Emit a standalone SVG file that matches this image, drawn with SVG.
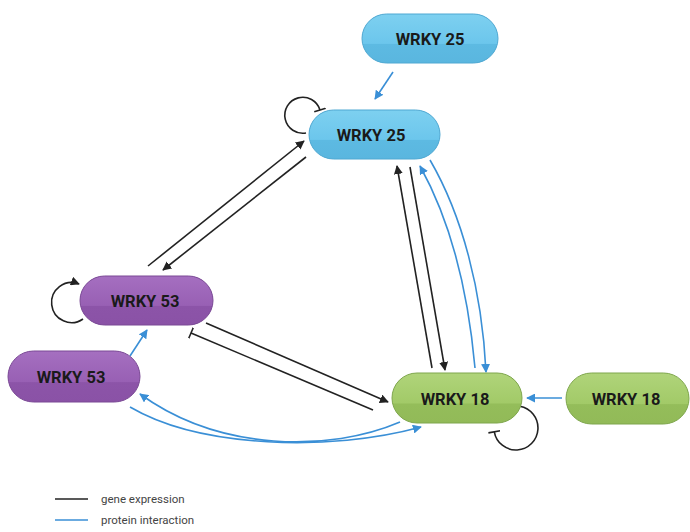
<svg xmlns="http://www.w3.org/2000/svg" width="690" height="532" viewBox="0 0 690 532">
<defs>
<linearGradient id="gBlue" x1="0" y1="0" x2="0" y2="1">
<stop offset="0" stop-color="#7dd0f0"/><stop offset="0.6" stop-color="#6cc6ec"/><stop offset="0.62" stop-color="#5dbae2"/><stop offset="1" stop-color="#5ab6df"/>
</linearGradient>
<linearGradient id="gPurple" x1="0" y1="0" x2="0" y2="1">
<stop offset="0" stop-color="#a56fc0"/><stop offset="0.6" stop-color="#9860b4"/><stop offset="0.62" stop-color="#8c54a8"/><stop offset="1" stop-color="#8a52a6"/>
</linearGradient>
<linearGradient id="gGreen" x1="0" y1="0" x2="0" y2="1">
<stop offset="0" stop-color="#b0d47a"/><stop offset="0.6" stop-color="#a2ca68"/><stop offset="0.62" stop-color="#94bd5a"/><stop offset="1" stop-color="#92ba58"/>
</linearGradient>
<marker id="aK" viewBox="0 0 10 10" refX="9" refY="5" markerWidth="9" markerHeight="9" markerUnits="userSpaceOnUse" orient="auto"><path d="M0,0 L10,5 L0,10 Z" fill="#222"/></marker>
<marker id="aB" viewBox="0 0 10 10" refX="9" refY="5" markerWidth="9" markerHeight="9" markerUnits="userSpaceOnUse" orient="auto"><path d="M0,0 L10,5 L0,10 Z" fill="#3a8fd6"/></marker>
<marker id="tK" viewBox="0 0 4 12" refX="2" refY="6" markerWidth="4" markerHeight="12" markerUnits="userSpaceOnUse" orient="auto"><path d="M2,0 L2,12" stroke="#222" stroke-width="1.6"/></marker>
</defs>
<style>
.k{fill:none;stroke:#222;stroke-width:1.6}
.b{fill:none;stroke:#3a8fd6;stroke-width:1.6}
.lbl{font-family:Roboto,"Liberation Sans",sans-serif;font-weight:bold;font-size:16.5px;fill:#1a1a1a;text-anchor:middle}
.leg{font-family:Roboto,"Liberation Sans",sans-serif;font-size:11.5px;fill:#444}
.nb{fill:url(#gBlue);stroke:#4fa8d2;stroke-width:1}
.np{fill:url(#gPurple);stroke:#7a4895;stroke-width:1}
.ng{fill:url(#gGreen);stroke:#7ea64c;stroke-width:1}
</style>
<rect width="690" height="532" fill="#fff"/>
<g id="connectors">
<line class="b" x1="393" y1="72" x2="375" y2="99" marker-end="url(#aB)"/>
<path class="k" d="M306,133 A18,18 0 1 1 320,110" marker-end="url(#tK)"/>
<line class="k" x1="148" y1="266" x2="304" y2="141" marker-end="url(#aK)"/>
<line class="k" x1="306" y1="157" x2="163" y2="270" marker-end="url(#aK)"/>
<path class="k" d="M83,319 A20,20 0 1 1 79,284" marker-end="url(#aK)"/>
<line class="b" x1="130" y1="356" x2="147" y2="330" marker-end="url(#aB)"/>
<line class="k" x1="206" y1="323" x2="388" y2="402" marker-end="url(#aK)"/>
<line class="k" x1="373" y1="410" x2="191" y2="333" marker-end="url(#tK)"/>
<path class="b" d="M400,422 C330,452 220,452 140,394" marker-end="url(#aB)"/>
<path class="b" d="M130,407 C200,448 330,452 421,427" marker-end="url(#aB)"/>
<line class="k" x1="432" y1="368" x2="397" y2="166" marker-end="url(#aK)"/>
<line class="k" x1="410" y1="167" x2="445" y2="370" marker-end="url(#aK)"/>
<path class="b" d="M475,368 C468,290 450,220 420,166" marker-end="url(#aB)"/>
<path class="b" d="M430,160 C462,215 482,290 486,372" marker-end="url(#aB)"/>
<line class="b" x1="562" y1="398" x2="527" y2="398" marker-end="url(#aB)"/>
<path class="k" d="M519.8,406.3 A22,22 0 1 1 494.3,431.8" marker-end="url(#tK)"/>
</g>
<g id="n_wrky25_top"><rect class="nb" x="362" y="14" width="136" height="49" rx="24.5"/><text class="lbl" x="430" y="44.5">WRKY 25</text></g>
<g id="n_wrky25"><rect class="nb" x="309" y="110" width="131" height="49" rx="24.5"/><text class="lbl" x="371" y="140.5">WRKY 25</text></g>
<g id="n_wrky53"><rect class="np" x="80" y="276" width="133" height="49" rx="24.5"/><text class="lbl" x="145" y="306.5">WRKY 53</text></g>
<g id="n_wrky53_low"><rect class="np" x="8" y="351" width="132" height="51" rx="25.5"/><text class="lbl" x="71" y="382.5">WRKY 53</text></g>
<g id="n_wrky18"><rect class="ng" x="392" y="373" width="130" height="50" rx="25"/><text class="lbl" x="455" y="404.5">WRKY 18</text></g>
<g id="n_wrky18_right"><rect class="ng" x="566" y="373" width="123" height="51" rx="25.5"/><text class="lbl" x="626" y="404.5">WRKY 18</text></g>
<g id="legend">
<line x1="55" y1="499" x2="88" y2="499" stroke="#222" stroke-width="1.6"/>
<text class="leg" x="101" y="503">gene expression</text>
<line x1="55" y1="520" x2="88" y2="520" stroke="#3a8fd6" stroke-width="1.6"/>
<text class="leg" x="101" y="524">protein interaction</text>
</g>
</svg>
